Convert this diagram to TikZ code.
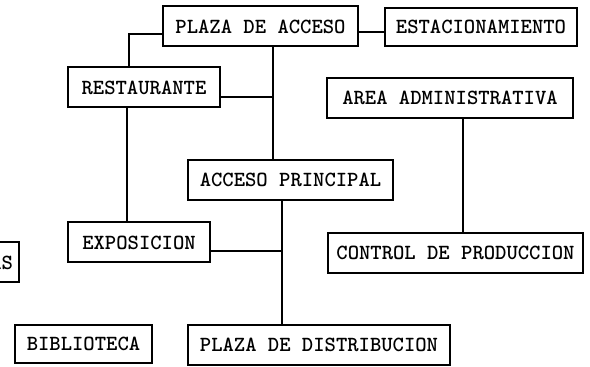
\documentclass[tikz,border=0pt]{standalone}
\begin{document}
\begin{tikzpicture}[x = .5pt, y = -.5pt,
    zona/.style = {draw, line width = 1pt, inner sep = 0pt, minimum height = 20pt,
      font = \ttfamily\bfseries\fontsize{10.8}{12}\selectfont},
    liga/.style = {line width = .9pt}]
  \useasboundingbox (0,0) rectangle (590,367);
  % zonas
  \node [zona, minimum width = 97.5pt] (plaza) at (260.5,26.5) {PLAZA DE ACCESO};
  \node [zona, minimum width = 96pt, minimum height = 19pt] (estac) at (481,27) {ESTACIONAMIENTO};
  \node [zona, minimum width = 76pt] (rest) at (144,87.5) {RESTAURANTE};
  \node [zona, minimum width = 123pt] (admin) at (450,98) {AREA ADMINISTRATIVA};
  \node [zona, minimum width = 102.5pt] (acceso) at (290.5,180) {ACCESO PRINCIPAL};
  \node [zona, minimum width = 71pt] (expo) at (139,242.5) {EXPOSICION};
  \node [zona, minimum width = 127.5pt] (control) at (455.5,253) {CONTROL DE PRODUCCION};
  \node [zona, anchor = east, inner xsep = 3pt] (salas) at (20,262.5) {AS};
  \node [zona, minimum width = 68.5pt, minimum height = 19pt] (biblio) at (83.5,344) {BIBLIOTECA};
  \node [zona, minimum width = 131pt] (distrib) at (319,345) {PLAZA DE DISTRIBUCION};
  % ligas
  \draw [liga] ([yshift = -2.75pt]plaza.east) -- ([yshift = -2.75pt]plaza.east -| estac.west);
  \draw [liga] ([yshift = -3.75pt]plaza.west) -| ([xshift = -7.5pt]rest.north);
  \draw [liga] ([xshift = 6.25pt]plaza.south) coordinate (eje) -- (eje |- acceso.north);
  \draw [liga] ([yshift = -4.75pt]rest.east) -- ([yshift = -4.75pt]rest.east -| eje);
  \draw [liga] ([xshift = -8.5pt]rest.south) -- ([xshift = -8.5pt]rest.south |- expo.north);
  \draw [liga] ([xshift = -4.25pt]acceso.south) coordinate (eje2) -- (eje2 |- distrib.north);
  \draw [liga] ([yshift = -4.25pt]expo.east) -- ([yshift = -4.25pt]expo.east -| eje2);
  \draw [liga] ([xshift = 6.5pt]admin.south) -- ([xshift = 6.5pt]admin.south |- control.north);
\end{tikzpicture}
\end{document}
